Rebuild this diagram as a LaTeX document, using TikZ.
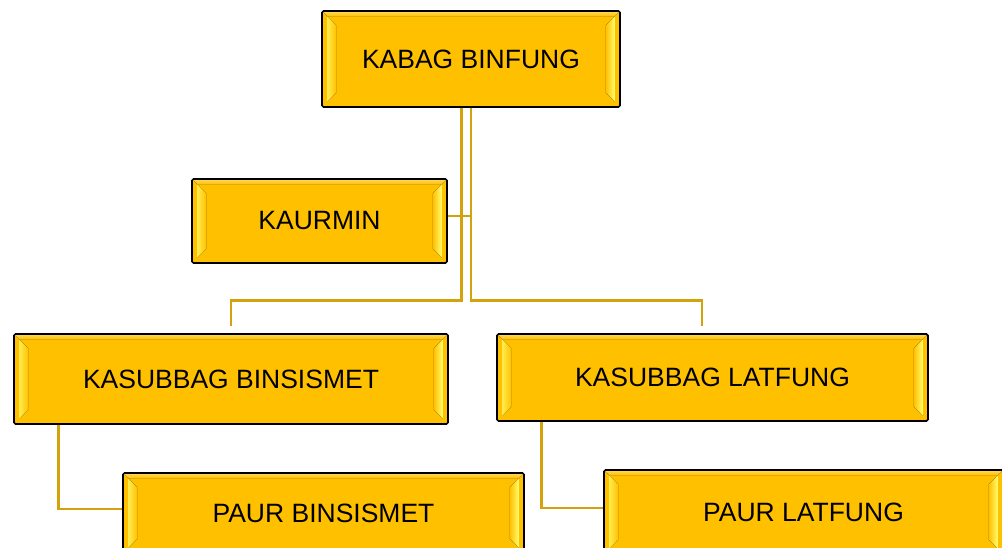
\documentclass[tikz,border=0pt]{standalone}
\usepackage{fontspec}
\setmainfont{Liberation Sans}
\usetikzlibrary{calc}
\definecolor{boxfill}{HTML}{FFC000}
\definecolor{bev}{HTML}{FFFF70}
\definecolor{conncol}{HTML}{D4A20A}
\tikzset{
  orgbox/.style={draw=black, line width=1.6pt, fill=boxfill, rounded corners=1.5pt,
    inner sep=0pt, text=black},
  lbl/.style={font=\fontsize{26.5}{30}\selectfont, text=black},
  conn/.style={draw=conncol, line width=2.8pt}
}
\newcommand\bevelbox[1]{%
  \fill[left color=bev!70!boxfill, right color=boxfill]
    ($(#1.north west)+(6,6)$) -- ($(#1.north west)+(15,15)$) --
    ($(#1.south west)+(15,-15)$) -- ($(#1.south west)+(6,-6)$) -- cycle;
  \fill[left color=boxfill, right color=bev]
    ($(#1.north east)+(-6,6)$) -- ($(#1.north east)+(-15,15)$) --
    ($(#1.south east)+(-15,-15)$) -- ($(#1.south east)+(-6,-6)$) -- cycle;
  \fill[top color=boxfill!70!white, bottom color=boxfill]
    ($(#1.north west)+(2,2)$) -- ($(#1.north east)+(-2,2)$) --
    ($(#1.north east)+(-6,6)$) -- ($(#1.north west)+(6,6)$) -- cycle;
}
\begin{document}
\begin{tikzpicture}[x=1pt,y=-1pt]
\useasboundingbox (0,0) rectangle (1002,548);
\coordinate (cL) at (231,326);
\coordinate (cR) at (702,326);
\node[orgbox, minimum width=298pt, minimum height=96pt] (top) at (471,59) {};
\node[orgbox, minimum width=255pt, minimum height=84pt] (kaurmin) at (319.5,221) {};
\node[orgbox, minimum width=434pt, minimum height=90pt] (binsismet) at (231,379) {};
\node[orgbox, minimum width=431pt, minimum height=87pt] (latfung) at (712.5,377.5) {};
\node[orgbox, minimum width=401pt, minimum height=80pt] (paurb) at (323.5,513) {};
\node[orgbox, minimum width=399pt, minimum height=84pt] (paurl) at (803.5,512) {};

\draw[conn] ([xshift=-9.5pt]top.south) -- ++(0,193) -| (cL);
\draw[conn] (top.south) -- ++(0,193) -| (cR);
\draw[conn] ([yshift=5pt]kaurmin.east) -- ([yshift=5pt]kaurmin.east -| top.south);
\draw[conn] ([xshift=45pt]binsismet.south west) |- ([yshift=4pt]paurb.west);
\draw[conn] ([xshift=45pt]latfung.south west) |- ([yshift=4pt]paurl.west);

\foreach \n in {top,kaurmin,binsismet,latfung,paurb,paurl}{\bevelbox{\n}}

\node[lbl] at (top) {KABAG BINFUNG};
\node[lbl] at (kaurmin) {KAURMIN};
\node[lbl] at (binsismet) {KASUBBAG BINSISMET};
\node[lbl] at (latfung) {KASUBBAG LATFUNG};
\node[lbl] at (paurb) {PAUR BINSISMET};
\node[lbl] at (paurl) {PAUR LATFUNG};
\end{tikzpicture}
\end{document}
